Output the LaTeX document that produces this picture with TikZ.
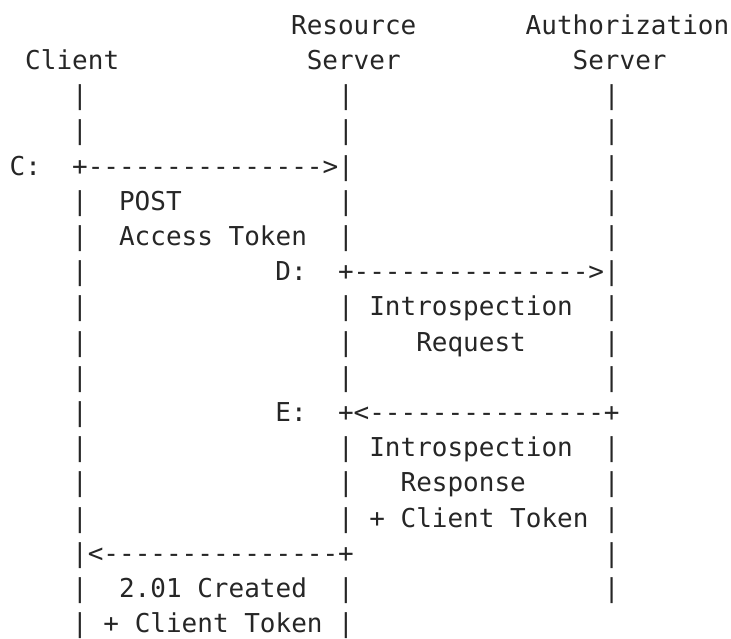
\documentclass[tikz,border=0pt]{standalone}
\usepackage{fontspec}
\setmonofont{DejaVu Sans Mono}
\tikzset{>=stealth}
\tikzset{ascii/.style={anchor=base west, inner sep=0pt, outer sep=0pt, text=black!85,
    font=\ttfamily\fontsize{13pt}{15pt}\selectfont}}

\begin{document}
\begin{tikzpicture}[x=7.82pt, y=-17.6pt]
    \useasboundingbox (-0.614,-0.972) rectangle (46.125,17.153);
    % headers
    \node[ascii] (rs1) at (18,0) {Resource};
    \node[ascii] (as1) at (33,0) {Authorization};
    \node[ascii] (client) at (1,1) {Client};
    \node[ascii] (rs2) at (19,1) {Server};
    \node[ascii] (as2) at (36,1) {Server};
    % lifelines
    \foreach \r in {2,3,5,6,7,8,9,10,11,12,13,14,15,16,17} \node[ascii] (cl\r) at (4,\r) {|};
    \foreach \r in {2,3,4,5,6,8,9,10,12,13,14,16,17} \node[ascii] (rs\r) at (21,\r) {|};
    \foreach \r in {2,3,4,5,6,7,8,9,10,12,13,14,15,16} \node[ascii] (as\r) at (38,\r) {|};
    \node[ascii] (clC) at (4,4) {+};
    \node[ascii] (rsD) at (21,7) {+};
    \node[ascii] (rsE) at (21,11) {+};
    \node[ascii] (rsF) at (21,15) {+};
    \node[ascii] (asE) at (38,11) {+};
    % C: POST
    \node[ascii] (labC) at (0,4) {C:};
    \node[ascii] (msgC) at (5,4) {--------------->};
    \node[ascii] (post) at (7,5) {POST};
    \node[ascii] (token) at (7,6) {Access Token};
    % D: introspection request
    \node[ascii] (labD) at (17,7) {D:};
    \node[ascii] (msgD) at (22,7) {--------------->};
    \node[ascii] (intro1) at (23,8) {Introspection};
    \node[ascii] (req) at (26,9) {Request};
    % E: introspection response
    \node[ascii] (labE) at (17,11) {E:};
    \node[ascii] (msgE) at (22,11) {<---------------};
    \node[ascii] (intro2) at (23,12) {Introspection};
    \node[ascii] (resp) at (25,13) {Response};
    \node[ascii] (ctok1) at (23,14) {+ Client Token};
    % response to client
    \node[ascii] (msgF) at (5,15) {<---------------};
    \node[ascii] (created) at (7,16) {2.01 Created};
    \node[ascii] (ctok2) at (6,17) {+ Client Token};
\end{tikzpicture}
\end{document}
